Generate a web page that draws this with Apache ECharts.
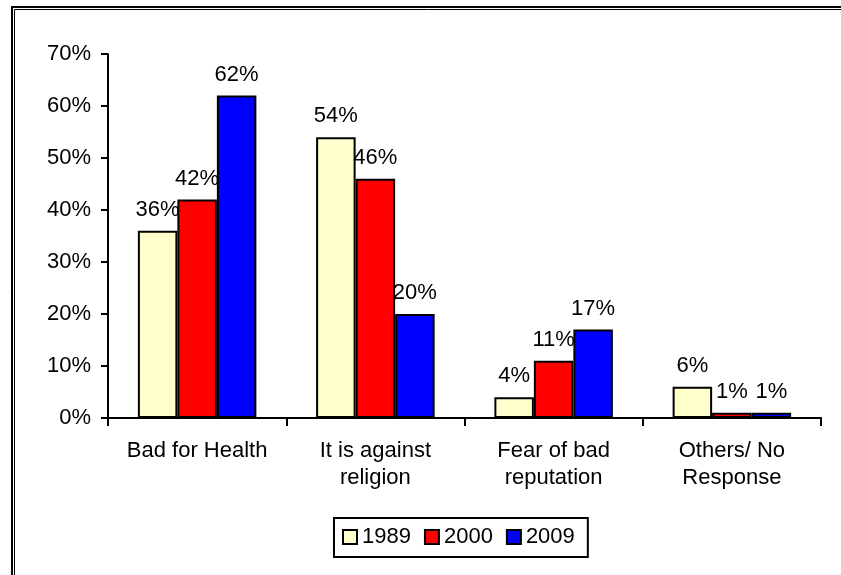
<!DOCTYPE html>
<html>
<head>
<meta charset="utf-8">
<script src="https://cdn.jsdelivr.net/npm/echarts@6/dist/echarts.min.js"></script>
<style>
  html, body { margin: 0; padding: 0; background: #fff; }
  #main { width: 841px; height: 575px; }
</style>
</head>
<body>
<div id="main"></div>
<script>
// categories and values
const categories = ['Bad for Health', 'It is against\nreligion', 'Fear of bad\nreputation', 'Others/ No\nResponse'];
const years = ['1989', '2000', '2009'];
const values1989 = [36, 54, 4, 6];
const values2000 = [42, 46, 11, 1];
const values2009 = [62, 20, 17, 1];
const yTicks = [0, 10, 20, 30, 40, 50, 60, 70];

const colors = ['#FFFFCC', '#FF0000', '#0000FF'];
const font = 'Liberation Sans, Arial, sans-serif';

const chart = echarts.init(document.getElementById('main'), null, { renderer: 'canvas' });

function makeSeries(name, data, color) {
  return {
    name: name,
    type: 'bar',
    data: data,
    barWidth: 39.5,
    barGap: '0%',
    itemStyle: {
      color: color,
      borderColor: '#000',
      borderWidth: 2
    },
    label: {
      show: true,
      position: 'top',
      distance: 10,
      formatter: '{c}%',
      color: '#000',
      fontFamily: font,
      fontSize: 22
    }
  };
}

const option = {
  animation: false,
  backgroundColor: '#fff',
  textStyle: { fontFamily: font },
  grid: {
    left: 108,
    right: 20,
    top: 54,
    bottom: 157
  },
  legend: {
    data: years,
    left: 334,
    top: 518,
    itemWidth: 14,
    itemHeight: 14,
    itemGap: 13,
    padding: [8, 13, 9, 8],
    borderColor: '#000',
    borderWidth: 2,
    borderRadius: 0,
    icon: 'rect',
    textStyle: { color: '#000', fontSize: 22, fontFamily: font },
    itemStyle: { borderColor: '#000', borderWidth: 2 }
  },
  xAxis: {
    type: 'category',
    data: categories,
    axisLine: { lineStyle: { color: '#000', width: 2 } },
    axisTick: { show: true, length: 8, alignWithLabel: false, lineStyle: { color: '#000', width: 2 } },
    axisLabel: {
      color: '#000',
      fontSize: 22,
      lineHeight: 27,
      margin: 19,
      fontFamily: font,
      interval: 0
    },
    splitLine: { show: false }
  },
  yAxis: {
    type: 'value',
    min: yTicks[0],
    max: yTicks[yTicks.length - 1],
    interval: 10,
    axisLine: { show: true, lineStyle: { color: '#000', width: 2 } },
    axisTick: { show: true, length: 7, lineStyle: { color: '#000', width: 2 } },
    axisLabel: {
      color: '#000',
      fontSize: 22,
      margin: 17,
      fontFamily: font,
      formatter: '{value}%'
    },
    splitLine: { show: false }
  },
  graphic: [
    {
      type: 'rect',
      shape: { x: 12, y: 7, width: 1000, height: 800 },
      style: { fill: 'none', stroke: '#000', lineWidth: 2 },
      silent: true
    },
    {
      type: 'rect',
      shape: { x: 14.5, y: 9.5, width: 1000, height: 800 },
      style: { fill: 'none', stroke: '#000', lineWidth: 1 },
      silent: true
    }
  ],
  series: [
    makeSeries(years[0], values1989, colors[0]),
    makeSeries(years[1], values2000, colors[1]),
    makeSeries(years[2], values2009, colors[2])
  ]
};

chart.setOption(option);
</script>
</body>
</html>
